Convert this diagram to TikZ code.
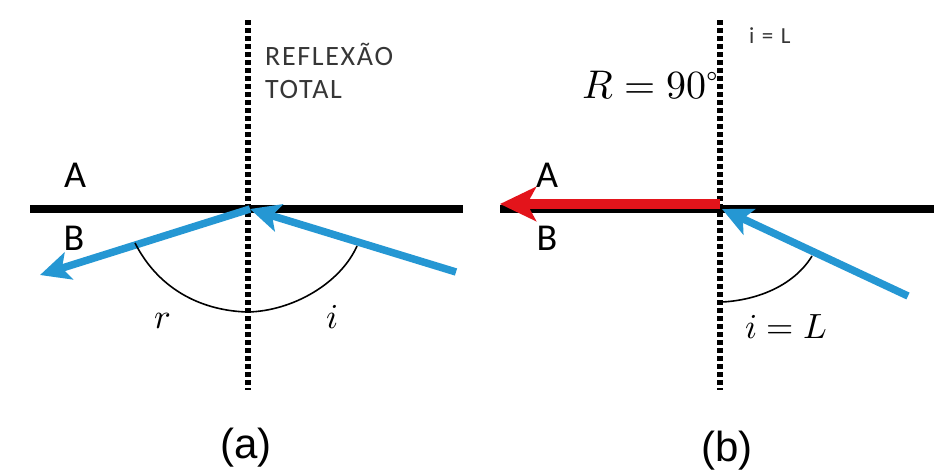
\documentclass[tikz,border=0pt]{standalone}
\usepackage{unicode-math}
\usetikzlibrary{arrows.meta}
\newfontfamily\labelfont{Carlito}
\newfontfamily\capfont{Liberation Sans}
\definecolor{raycyan}{HTML}{2597D3}
\definecolor{rayred}{HTML}{E3141B}
\definecolor{notegray}{HTML}{363636}

\begin{document}
\begin{tikzpicture}[x=1pt,y=-1pt,
    surf/.style={line width=8pt,black},
    normline/.style={line width=6pt,black,dash pattern=on 5pt off 3pt},
    ray/.style={line width=7.5pt,raycyan,-{Stealth[length=30pt,width=28pt,inset=7pt]}},
    redray/.style={line width=10pt,rayred,-{Stealth[length=36pt,width=34pt,inset=9pt]}},
    angarc/.style={line width=1.6pt,black},
    medium/.style={font=\labelfont\fontsize{38}{40}\selectfont,anchor=base,inner sep=0pt},
    note/.style={font=\labelfont\fontsize{28}{32}\selectfont\addfontfeature{LetterSpace=6},text=notegray,anchor=base west,inner sep=0pt},
    ang/.style={font=\fontsize{35}{40}\selectfont,inner sep=0pt},
    caption/.style={font=\capfont\fontsize{42}{46}\selectfont,anchor=base,inner sep=0pt}
]
\useasboundingbox (0,0) rectangle (944,472);

% (a) reflexao total
\coordinate (O1) at (250,209);
\coordinate (ina) at (456,272);
\coordinate (outa) at (40,275);
\draw[normline] (248,20) -- (248,390);
\draw[surf] (30,209) -- (463,209);
\draw[ray] (ina) -- (O1);
\draw[ray] (O1) -- (outa);
\draw[angarc] (135,243) .. controls (160,292) and (205,311) .. (248,312)
    .. controls (292,311) and (340,284) .. (357,246);
\node[medium] (Aa) at (75,187) {A};
\node[medium] (Ba) at (74,250) {B};
\node[note] (reflex) at (265,65) {REFLEXÃO};
\node[note] (total) at (265,98) {TOTAL};
\node[ang,anchor=base] (ra) at (163,328) {$r$};
\node[ang,anchor=base] (ia) at (333,328) {$i$};
\node[caption] (capa) at (246,458) {(a)};

% (b) angulo limite
\coordinate (O2) at (722,209);
\coordinate (inb) at (908,296);
\coordinate (redstart) at (720,204);
\coordinate (redend) at (500,204);
\draw[normline] (720,20) -- (720,390);
\draw[surf] (500,209) -- (934,209);
\draw[redray] (redstart) -- (redend);
\draw[ray] (inb) -- (O2);
\draw[angarc] (722,302) .. controls (760,300) and (795,284) .. (812,256);
\node[medium] (Ab) at (547,187) {A};
\node[medium] (Bb) at (547,250) {B};
\node[ang,anchor=base east,font=\fontsize{40}{44}\selectfont] (Rb) at (719,98) {$R = 90^\circ$};
\node[ang,anchor=base west,font=\fontsize{35}{40}\selectfont] (ib) at (745,338) {$i = L$};
\node[note,font=\labelfont\fontsize{23}{26}\selectfont\addfontfeature{LetterSpace=10}] (limit) at (749,43) {i = L};
\node[caption] (capb) at (727,461) {(b)};
\end{tikzpicture}
\end{document}
